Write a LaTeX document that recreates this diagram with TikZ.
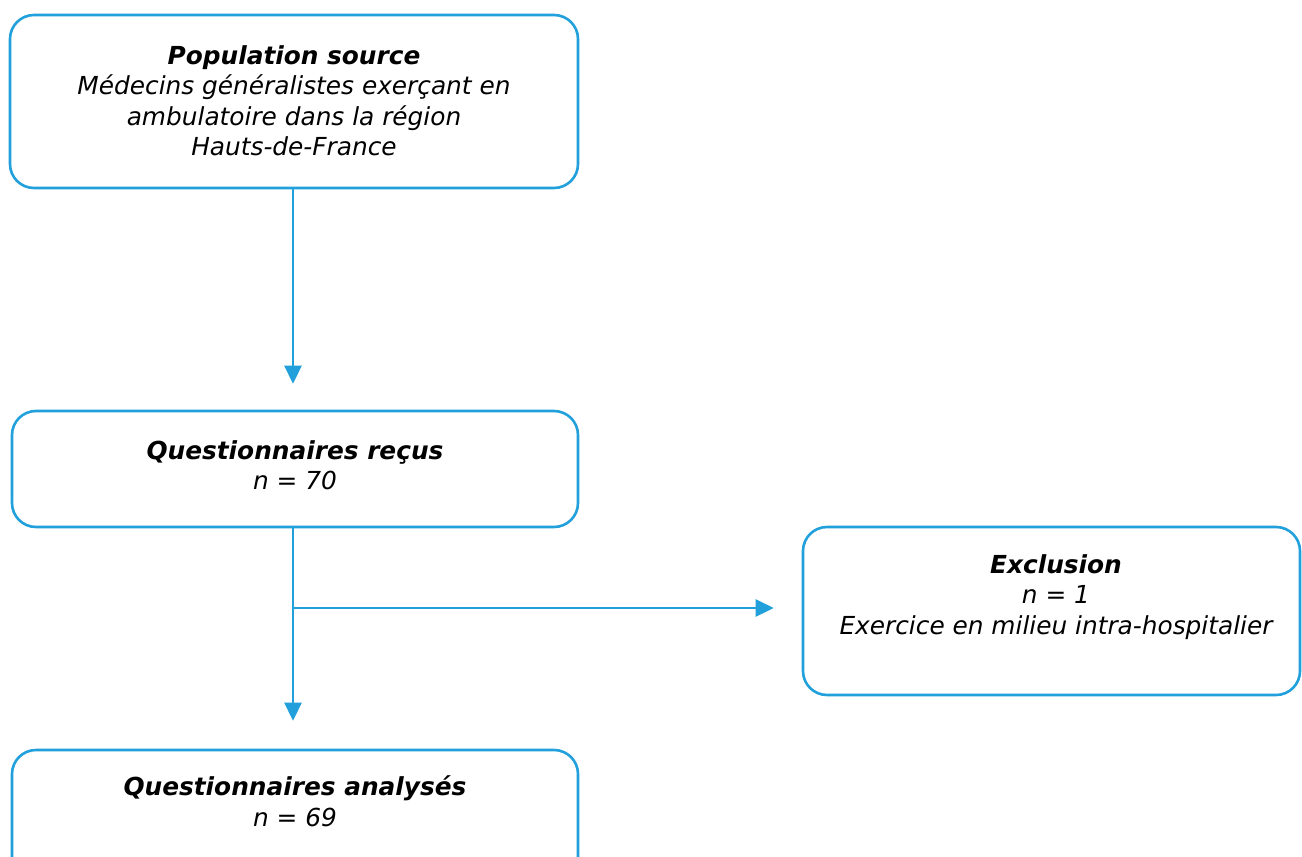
\documentclass[tikz,border=0pt]{standalone}
\usepackage{fontspec}
\setmainfont{DejaVu Sans}
\usetikzlibrary{arrows.meta}
\definecolor{flow}{RGB}{33,160,219}
\begin{document}
\begin{tikzpicture}[x=1pt,y=-1pt,
  box/.style={draw=flow, line width=2.6pt, rounded corners=24pt, fill=white, inner sep=0pt},
  txt/.style={align=center, font=\fontsize{24.8pt}{30.5pt}\selectfont\itshape, inner sep=0pt},
  conn/.style={draw=flow, line width=2.6pt},
  arr/.style={conn, -{Triangle[width=17pt,length=18pt]}}]
\useasboundingbox (0,0) rectangle (1302,857);
\node[box, minimum width=568pt, minimum height=173pt] (b1) at (294,101.5) {};
\node[box, minimum width=566pt, minimum height=116pt] (b2) at (295,469) {};
\node[box, minimum width=497pt, minimum height=168pt] (b3) at (1051.5,611) {};
\node[box, minimum width=566pt, minimum height=140pt] (b4) at (295,820) {};
\node[txt] (t1) at (294,101) {\textbf{Population source}\\Médecins généralistes exerçant en\\ambulatoire dans la région\\Hauts-de-France};
\node[txt] (t2) at (295,465) {\textbf{Questionnaires reçus}\\\textit{n} = 70};
\node[txt] (t3) at (1056,597) {\textbf{Exclusion}\\\textit{n} = 1\\Exercice en milieu intra-hospitalier};
\node[txt] (t4) at (295,801) {\textbf{Questionnaires analysés}\\\textit{n} = 69};
\coordinate (j) at (293,608);
\draw[arr, shorten >=26pt] (b1.south -| j) -- (b2.north -| j);
\draw[arr, shorten >=28pt] (b2.south -| j) -- (b4.north -| j);
\draw[arr, shorten >=28pt] (j) -- (b3.west |- j);
\end{tikzpicture}
\end{document}
